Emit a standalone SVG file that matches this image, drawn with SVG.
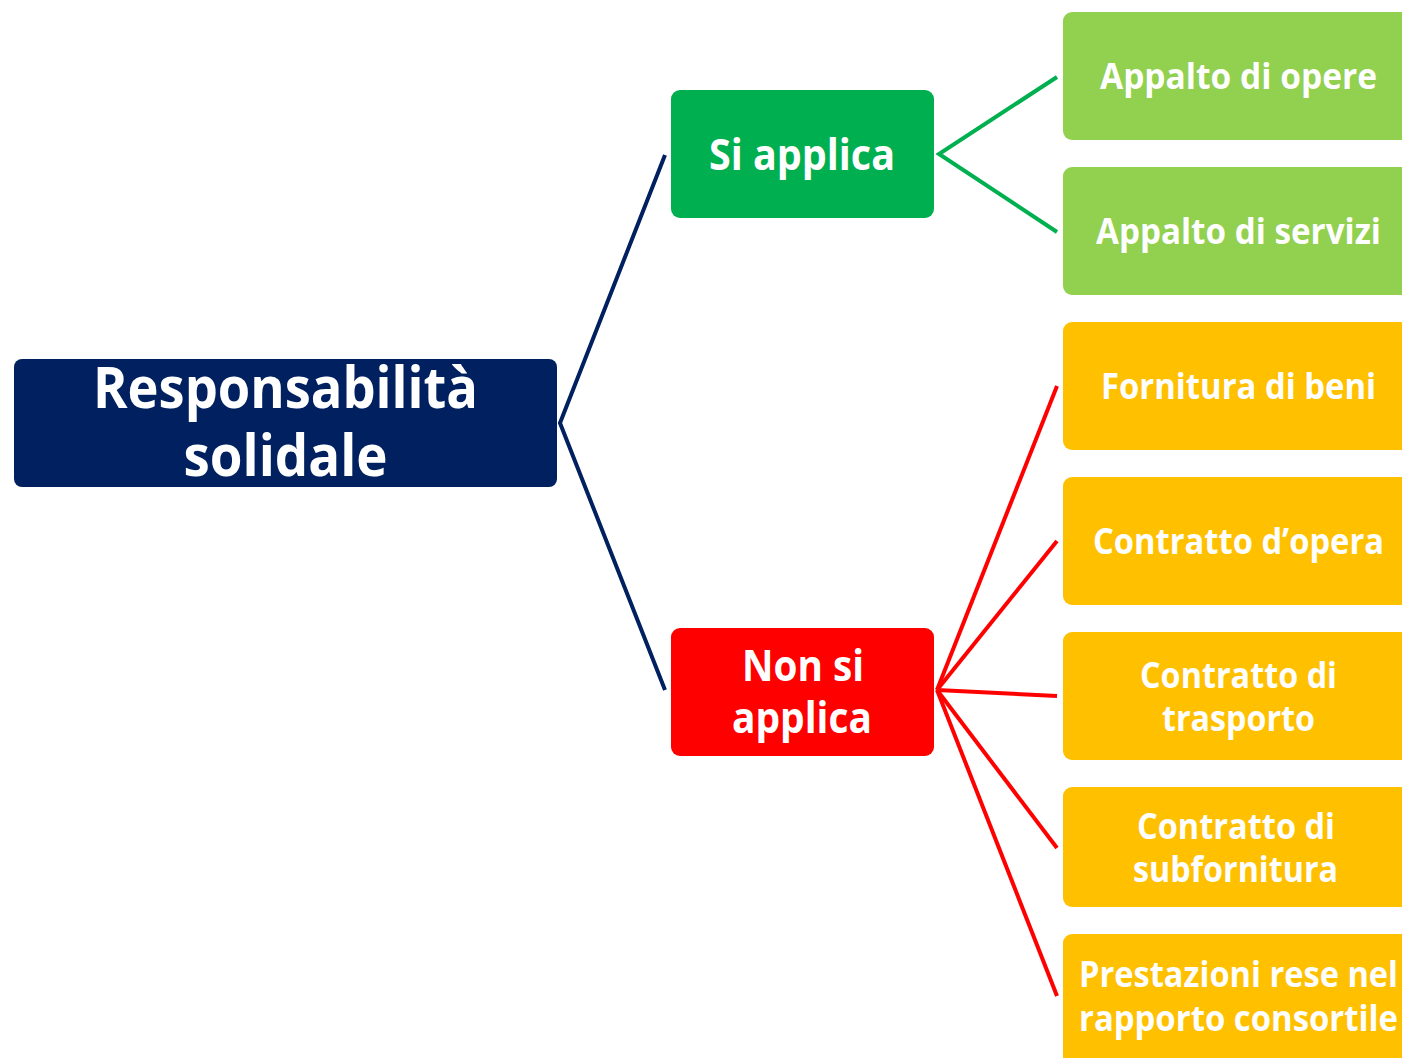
<svg xmlns="http://www.w3.org/2000/svg" width="1402" height="1058" viewBox="0 0 1402 1058">
<style>
text{font-family:"Open Sans","Noto Sans","DejaVu Sans",sans-serif;font-weight:bold;fill:#ffffff;text-anchor:middle}
.t1{font-size:57px}
.t2{font-size:43px}
.t3{font-size:36px}
.c{fill:none;stroke-width:4}
</style>
<rect width="1402" height="1058" fill="#ffffff"/>
<g id="connectors">
<polyline class="c" stroke="#002060" points="665,155 560,423 665,690"/>
<polyline class="c" stroke="#00B050" points="1057,77 939,154 1057,232"/>
<g stroke="#FF0000" class="c">
<line x1="937" y1="690" x2="1057" y2="386"/>
<line x1="937" y1="690" x2="1057" y2="541"/>
<line x1="937" y1="690" x2="1057" y2="696"/>
<line x1="937" y1="690" x2="1057" y2="848"/>
<line x1="937" y1="690" x2="1057" y2="996"/>
</g>
</g>
<g id="root">
<rect x="14" y="359" width="543" height="128" rx="8" fill="#002060"/>
<text class="t1" x="285.5" y="408" textLength="385" lengthAdjust="spacingAndGlyphs">Responsabilità</text>
<text class="t1" x="285.5" y="476" textLength="204" lengthAdjust="spacingAndGlyphs">solidale</text>
</g>
<g id="si-applica">
<rect x="671" y="90" width="263" height="128" rx="9" fill="#00B050"/>
<text class="t2" x="802" y="170" textLength="186" lengthAdjust="spacingAndGlyphs">Si applica</text>
</g>
<g id="non-si-applica">
<rect x="671" y="628" width="263" height="128" rx="9" fill="#FF0000"/>
<text class="t2" x="803" y="681" textLength="122" lengthAdjust="spacingAndGlyphs">Non si</text>
<text class="t2" x="802" y="733" textLength="140" lengthAdjust="spacingAndGlyphs">applica</text>
</g>
<g id="appalto-opere">
<rect x="1063" y="12" width="350" height="128" rx="9" fill="#92D050"/>
<text class="t3" x="1238.5" y="89" textLength="277" lengthAdjust="spacingAndGlyphs">Appalto di opere</text>
</g>
<g id="appalto-servizi">
<rect x="1063" y="167" width="350" height="128" rx="9" fill="#92D050"/>
<text class="t3" x="1238.5" y="244" textLength="285" lengthAdjust="spacingAndGlyphs">Appalto di servizi</text>
</g>
<g id="fornitura-beni">
<rect x="1063" y="322" width="350" height="128" rx="9" fill="#FFC000"/>
<text class="t3" x="1238.5" y="399" textLength="275" lengthAdjust="spacingAndGlyphs">Fornitura di beni</text>
</g>
<g id="contratto-opera">
<rect x="1063" y="477" width="350" height="128" rx="9" fill="#FFC000"/>
<text class="t3" x="1238.5" y="554" textLength="291" lengthAdjust="spacingAndGlyphs">Contratto d’opera</text>
</g>
<g id="contratto-trasporto">
<rect x="1063" y="632" width="350" height="128" rx="9" fill="#FFC000"/>
<text class="t3" x="1238.5" y="688" textLength="197" lengthAdjust="spacingAndGlyphs">Contratto di</text>
<text class="t3" x="1238.5" y="731" textLength="153" lengthAdjust="spacingAndGlyphs">trasporto</text>
</g>
<g id="contratto-subfornitura">
<rect x="1063" y="787" width="350" height="120" rx="9" fill="#FFC000"/>
<text class="t3" x="1236" y="839" textLength="198" lengthAdjust="spacingAndGlyphs">Contratto di</text>
<text class="t3" x="1235.5" y="882" textLength="205" lengthAdjust="spacingAndGlyphs">subfornitura</text>
</g>
<g id="prestazioni-consortile">
<rect x="1063" y="934" width="350" height="140" rx="9" fill="#FFC000"/>
<text class="t3" x="1238.5" y="987" textLength="319" lengthAdjust="spacingAndGlyphs">Prestazioni rese nel</text>
<text class="t3" x="1238.5" y="1031" textLength="319" lengthAdjust="spacingAndGlyphs">rapporto consortile</text>
</g>
</svg>
